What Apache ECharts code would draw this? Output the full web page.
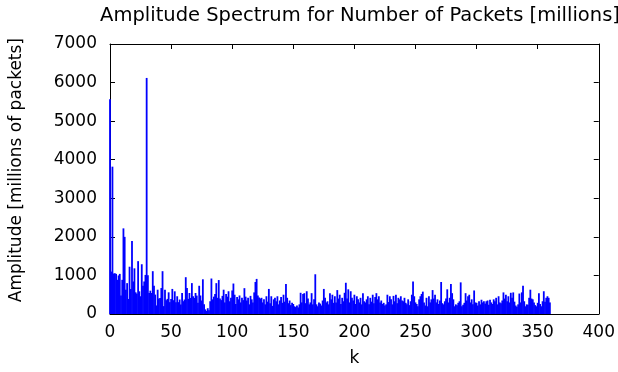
<!DOCTYPE html>
<html>
<head>
<meta charset="utf-8">
<script src="https://cdn.jsdelivr.net/npm/echarts@6/dist/echarts.min.js"></script>
<style>
  html, body { margin: 0; padding: 0; background: #fff; }
  #chart { width: 618px; height: 372px; }
</style>
</head>
<body>
<div id="chart"></div>
<script>
// amplitude per k (k = 0 .. 360)
const amplitude = [
  5570, 1100, 3820, 1050, 1056, 1040, 886, 1000, 1040, 477,
  886, 2220, 2000, 630, 800, 390, 1226, 647, 1890, 843,
  1184, 562, 528, 1370, 588, 460, 1290, 732, 843, 1013,
  6120, 1005, 545, 605, 545, 1110, 732, 503, 222, 630,
  400, 417, 673, 1110, 204, 630, 358, 392, 562, 307,
  392, 650, 358, 588, 307, 460, 307, 375, 247, 545,
  332, 375, 954, 673, 392, 545, 417, 801, 460, 417,
  545, 477, 290, 732, 480, 350, 900, 250, 120, 80,
  150, 100, 330, 920, 380, 450, 520, 800, 420, 880,
  400, 360, 470, 630, 300, 520, 450, 590, 330, 420,
  610, 790, 500, 260, 440, 380, 480, 300, 420, 360,
  670, 450, 350, 420, 250, 470, 380, 300, 560, 830,
  910, 480, 430, 400, 420, 300, 380, 250, 460, 320,
  650, 280, 460, 210, 380, 420, 330, 460, 250, 350,
  440, 290, 500, 320, 780, 420, 280, 350, 230, 290,
  260, 200, 180, 220, 170, 250, 550, 300, 520, 540,
  280, 590, 400, 250, 300, 540, 250, 380, 1030, 250,
  200, 300, 270, 220, 350, 650, 420, 300, 330, 250,
  540, 380, 500, 290, 460, 300, 620, 400, 500, 260,
  420, 330, 550, 810, 400, 640, 300, 590, 420, 350,
  500, 260, 460, 380, 300, 420, 250, 540, 330, 300,
  380, 460, 250, 420, 320, 500, 280, 440, 540, 380,
  460, 300, 350, 260, 290, 220, 250, 500, 310, 460,
  380, 250, 470, 330, 500, 280, 420, 380, 460, 350,
  330, 420, 290, 250, 380, 230, 330, 500, 840, 460,
  300, 260, 200, 380, 460, 520, 580, 300, 220, 420,
  200, 460, 300, 380, 620, 400, 500, 300, 380, 260,
  350, 830, 280, 250, 330, 400, 640, 300, 420, 780,
  540, 380, 200, 250, 230, 290, 330, 820, 200, 240,
  290, 540, 350, 460, 500, 300, 380, 250, 610, 300,
  290, 220, 330, 250, 370, 300, 330, 270, 330, 350,
  240, 370, 300, 260, 380, 330, 420, 250, 460, 300,
  280, 350, 560, 400, 500, 330, 460, 300, 550, 420,
  560, 320, 220, 190, 250, 530, 300, 560, 730, 330,
  200, 250, 240, 420, 630, 400, 380, 300, 230, 200,
  290, 540, 260, 200, 330, 590, 320, 420, 460, 420,
  300
];
const xTicks = { min: 0, max: 400, interval: 50 };
const yTicks = { min: 0, max: 7000, interval: 1000 };

const font = 'DejaVu Sans';
const chart = echarts.init(document.getElementById('chart'), null, { renderer: 'canvas' });

const tickStyle = { inside: true, length: 5, lineStyle: { color: '#000' } };
const frameLine = { show: true, onZero: false, lineStyle: { color: '#000' } };

chart.setOption({
  animation: false,
  title: {
    text: 'Amplitude Spectrum for Number of Packets [millions]',
    left: 355,
    textAlign: 'center',
    top: 1,
    textStyle: { fontFamily: font, fontSize: 19.5, fontWeight: 'normal', color: '#000' }
  },
  // y axis title sits a bit above the plot middle in the reference
  graphic: [{
    type: 'text',
    left: 8,
    top: 38,
    rotation: Math.PI / 2,
    style: {
      text: 'Amplitude [millions of packets]',
      font: '17px "DejaVu Sans"',
      fill: '#000'
    }
  }],
  grid: { left: 110, right: 19, top: 44, bottom: 54 },
  xAxis: [
    {
      type: 'value', ...xTicks,
      name: 'k', nameLocation: 'middle', nameGap: 36,
      nameTextStyle: { fontFamily: font, fontSize: 17, color: '#000' },
      axisLine: frameLine,
      axisTick: tickStyle,
      axisLabel: { fontFamily: font, fontSize: 17, color: '#000', margin: 10 },
      splitLine: { show: false }
    },
    {
      type: 'value', ...xTicks, position: 'top',
      axisLine: frameLine,
      axisTick: tickStyle,
      axisLabel: { show: false },
      splitLine: { show: false }
    }
  ],
  yAxis: [
    {
      type: 'value', ...yTicks,
      axisLine: frameLine,
      axisTick: tickStyle,
      axisLabel: { fontFamily: font, fontSize: 17, color: '#000', margin: 13, formatter: v => String(v) },
      splitLine: { show: false }
    },
    {
      type: 'value', ...yTicks, position: 'right',
      axisLine: frameLine,
      axisTick: tickStyle,
      axisLabel: { show: false },
      splitLine: { show: false }
    }
  ],
  series: [{
    type: 'bar',
    data: amplitude.map((v, k) => [k, v]),
    barWidth: 1.8,
    itemStyle: { color: '#0000ff' },
    silent: true
  }]
});
</script>
</body>
</html>
